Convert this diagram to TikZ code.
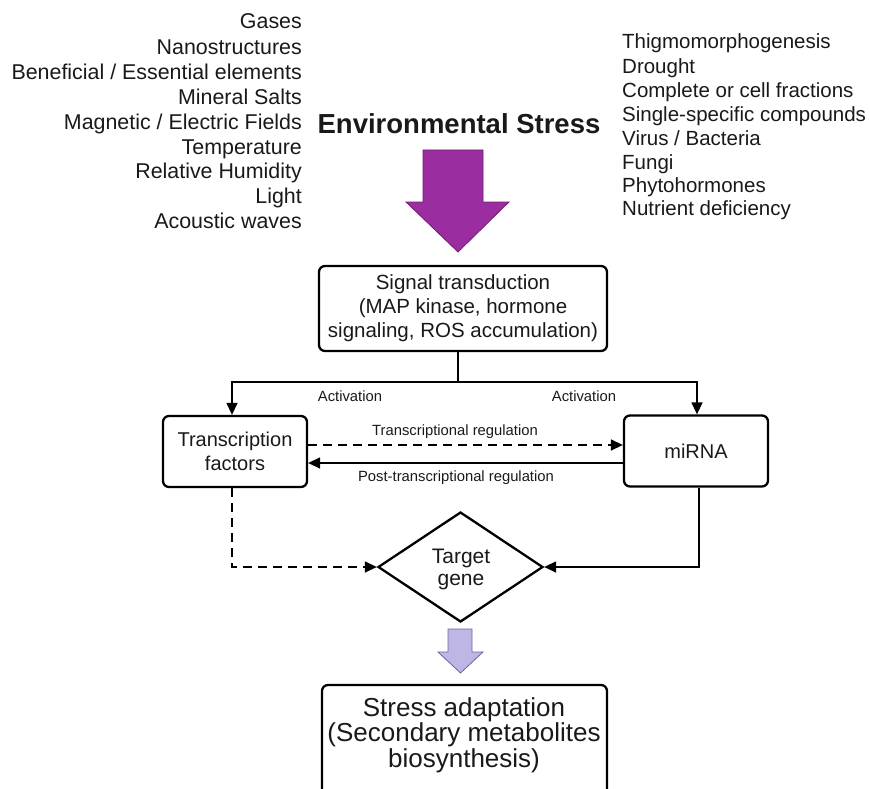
\documentclass[tikz,border=0pt]{standalone}
\usepackage{fontspec}
\setmainfont{Liberation Sans}
\usetikzlibrary{arrows.meta,shapes.geometric}
\definecolor{bigpurple}{RGB}{155,45,160}
\definecolor{bigpurpleedge}{RGB}{110,30,115}
\definecolor{lavender}{RGB}{190,182,228}
\definecolor{lavenderedge}{RGB}{110,100,150}
\definecolor{ink}{RGB}{25,25,25}
\begin{document}
\begin{tikzpicture}[x=1pt,y=-1pt, every node/.style={text=ink},
  box/.style={draw, line width=2.3pt, rounded corners=6pt, align=center, inner sep=0pt},
  conn/.style={line width=1.4pt},
  tip/.style={-{Triangle[length=12pt,width=11pt]}},
  dashline/.style={dash pattern=on 9pt off 6pt},
  leftlist/.style={anchor=base east, inner sep=0pt, font=\fontsize{21.4}{25}\selectfont},
  rightlist/.style={anchor=base west, inner sep=0pt, font=\fontsize{20.5}{24}\selectfont},
  small/.style={font=\fontsize{14.8}{16}\selectfont, inner sep=0pt},
  boxtext/.style={font=\fontsize{20.5}{24}\selectfont}
]
\useasboundingbox (0,0) rectangle (870,789);

% left list
\node[leftlist] (l1) at (302,28.5) {Gases};
\node[leftlist] (l2) at (302,54.5) {Nanostructures};
\node[leftlist] (l3) at (302,79.5) {Beneficial / Essential elements};
\node[leftlist] (l4) at (302,104.5) {Mineral Salts};
\node[leftlist] (l5) at (302,129.5) {Magnetic / Electric Fields};
\node[leftlist] (l6) at (302,154.5) {Temperature};
\node[leftlist] (l7) at (302,178.5) {Relative Humidity};
\node[leftlist] (l8) at (302,203.5) {Light};
\node[leftlist] (l9) at (302,228.5) {Acoustic waves};

% right list
\node[rightlist] (r1) at (622,48.3) {Thigmomorphogenesis};
\node[rightlist] (r2) at (622,73.3) {Drought};
\node[rightlist] (r3) at (622,97.3) {Complete or cell fractions};
\node[rightlist] (r4) at (622,121.3) {Single-specific compounds};
\node[rightlist] (r5) at (622,145.3) {Virus / Bacteria};
\node[rightlist] (r6) at (622,169.3) {Fungi};
\node[rightlist] (r7) at (622,192.3) {Phytohormones};
\node[rightlist] (r8) at (622,215.3) {Nutrient deficiency};

% title
\node[inner sep=0pt, font=\fontsize{27.5}{30}\selectfont\bfseries] (title) at (459,124) {Environmental Stress};

% big purple arrow
\draw[fill=bigpurple, draw=bigpurpleedge, line width=0.8pt, line join=miter]
  (423,150) -- (483,150) -- (483,202) -- (509,202) -- (458,252) -- (406,202) -- (423,202) -- cycle;

% signal box
\node[box, boxtext, minimum width=288pt, minimum height=85pt] (sig) at (463,308.5)
  {Signal transduction\\(MAP kinase, hormone\\signaling, ROS accumulation)};

% TF and miRNA
\node[box, font=\fontsize{20}{23.5}\selectfont, minimum width=144pt, minimum height=71pt] (tf) at (235,451.5)
  {Transcription\\factors};
\node[box, font=\fontsize{20}{23.5}\selectfont, minimum width=144pt, minimum height=71pt] (mir) at (696,451)
  {miRNA};

% diamond
\node[draw, diamond, line width=2.3pt, minimum width=165pt, minimum height=110pt, inner sep=0pt] (diam) at (460.5,567) {};
\node[inner sep=0pt, align=center, font=\fontsize{21}{22}\selectfont] (diamtext) at (461,569) {Target\\gene};

% bottom box
\node[box, minimum width=285pt, minimum height=150pt] (adapt) at (464.5,760) {};
\node[inner sep=0pt, align=center, font=\fontsize{26}{25.5}\selectfont, anchor=north] (adapttext) at (464,697)
  {Stress adaptation\\(Secondary metabolites\\biosynthesis)};

% small lavender arrow
\draw[fill=lavender, draw=lavenderedge, line width=0.8pt, line join=miter]
  (448,629) -- (472,629) -- (472,652) -- (483,652) -- (460.5,673) -- (438,652) -- (448,652) -- cycle;

% connectors
\draw[conn] ([xshift=-5pt]sig.south) -- ++(0,30) coordinate (split);
\draw[conn, tip] (split) -| ([xshift=-3pt]tf.north);
\draw[conn, tip] (split) -| ([xshift=1pt]mir.north);
\node[small] (act1) at (350,396) {Activation};
\node[small] (act2) at (584,396) {Activation};

\draw[conn, dashline, tip] ([yshift=6.5pt]tf.east) -- ([yshift=6pt]mir.west);
\node[small] (treg) at (455,432) {Transcriptional regulation};
\draw[conn, tip] ([yshift=-12pt]mir.west) -- ([yshift=-11.5pt]tf.east);
\node[small] (preg) at (456,477.5) {Post-transcriptional regulation};

\draw[conn, dashline, tip] ([xshift=-3pt]tf.south) |- (diam.west);
\draw[conn, tip] ([xshift=3pt]mir.south) |- (diam.east);
\end{tikzpicture}
\end{document}
